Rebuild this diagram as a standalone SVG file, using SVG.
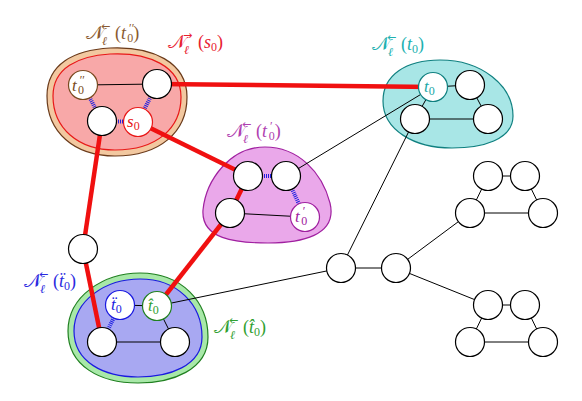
<svg xmlns="http://www.w3.org/2000/svg" width="582" height="401" viewBox="0 0 582 401">
<style>
.n{fill:#fff;stroke:#000;stroke-width:1.2}
.e{stroke:#000;stroke-width:1;fill:none}
.r{stroke:#f01010;stroke-width:4.5;fill:none;stroke-linecap:butt}
.h{stroke:#2020e0;stroke-width:4;stroke-dasharray:1 1;fill:none}
.cal{font-family:"DejaVu Serif","DejaVu Sans","Noto Sans",serif;font-size:19px}
.m{font-family:"Liberation Serif","DejaVu Serif",serif;font-size:18px}
.nt{font-family:"Liberation Serif","DejaVu Serif",serif;font-size:17px}
.it{font-style:italic}
.s{font-size:12px}
.sm{font-family:"DejaVu Sans",sans-serif;font-size:11px}
</style>
<rect width="582" height="401" fill="#fff"/>
<g id="blobs">
<g id="blob-t0pp">
<path d="M110 48 C152 46 187 62 187 97 C187 132 160 156 115 156 C74 156 47 132 47 96 C47 64 74 50 110 48 Z" fill="#f2c8a0" stroke="#6a3a1a" stroke-width="1.2"/>
<path d="M110 54 C148 52 181 66 181 97 C181 128 157 150 115 150 C78 150 53 128 53 96 C53 68 78 56 110 54 Z" fill="#f8a8a8" stroke="#e81818" stroke-width="1.2"/>
</g>
<g id="blob-t0p">
<path d="M265 147 C298 147 322 172 330 203 C338 236 300 243 268 243 C235 243 201 239 203 210 C206 180 230 147 265 147 Z" fill="#eaa8ea" stroke="#a020a0" stroke-width="1.2"/>
</g>
<g id="blob-t0">
<path d="M440 60 C482 60 513 86 513 116 C513 140 482 148 452 148 C414 148 383 130 383 101 C383 75 406 60 440 60 Z" fill="#a8e6e6" stroke="#108080" stroke-width="1.2"/>
</g>
<g id="blob-tdd">
<path d="M140 273 C182 273 208 302 208 337 C208 370 172 383 138 383 C100 383 68 366 68 331 C68 296 104 273 140 273 Z" fill="#a8e8a8" stroke="#208020" stroke-width="1.2"/>
<path d="M140 279 C177 279 202 304 202 337 C202 366 169 377 138 377 C104 377 74 362 74 331 C74 300 106 279 140 279 Z" fill="#a8a8f2" stroke="#1a1ae0" stroke-width="1.2"/>
</g>
</g>
<g id="connectors">
<line class="e" x1="83" y1="85" x2="157" y2="84"/>
<line class="e" x1="230" y1="213" x2="305" y2="217"/>
<line class="e" x1="286" y1="176" x2="433" y2="87"/>
<line class="e" x1="433" y1="87" x2="470" y2="85"/>
<line class="e" x1="433" y1="87" x2="415" y2="119"/>
<line class="e" x1="470" y1="85" x2="488" y2="119"/>
<line class="e" x1="415" y1="119" x2="488" y2="119"/>
<line class="e" x1="415" y1="119" x2="341" y2="268"/>
<line class="e" x1="341" y1="268" x2="396" y2="268"/>
<line class="e" x1="341" y1="268" x2="157" y2="306"/>
<line class="e" x1="120" y1="305" x2="157" y2="306"/>
<line class="e" x1="157" y1="306" x2="175" y2="342"/>
<line class="e" x1="102" y1="342" x2="175" y2="342"/>
<line class="e" x1="396" y1="268" x2="470" y2="213"/>
<line class="e" x1="396" y1="268" x2="488" y2="305"/>
<line class="e" x1="488" y1="176" x2="525" y2="176"/>
<line class="e" x1="488" y1="176" x2="470" y2="213"/>
<line class="e" x1="525" y1="176" x2="543" y2="213"/>
<line class="e" x1="470" y1="213" x2="543" y2="213"/>
<line class="e" x1="488" y1="305" x2="525" y2="305"/>
<line class="e" x1="488" y1="305" x2="470" y2="342"/>
<line class="e" x1="525" y1="305" x2="543" y2="342"/>
<line class="e" x1="470" y1="342" x2="543" y2="342"/>
<line class="r" x1="157" y1="84" x2="433" y2="87"/>
<line class="r" x1="138" y1="122" x2="248" y2="176"/>
<line class="r" x1="248" y1="176" x2="230" y2="213"/>
<line class="r" x1="230" y1="213" x2="157" y2="306"/>
<line class="r" x1="102" y1="121" x2="83" y2="249"/>
<line class="r" x1="83" y1="249" x2="102" y2="342"/>
<line class="h" x1="83" y1="85" x2="102" y2="121"/>
<line class="h" x1="157" y1="84" x2="138" y2="122"/>
<line class="h" x1="102" y1="121" x2="138" y2="122"/>
<line class="h" x1="248" y1="176" x2="286" y2="176"/>
<line class="h" x1="286" y1="176" x2="305" y2="217"/>
<line class="h" x1="120" y1="305" x2="102" y2="342"/>
</g>
<g id="node-t0pp"><circle cx="83" cy="85" r="14.5" class="n" style="stroke:#7a4a20"/><text x="72" y="91" class="nt" fill="#7a4a20"><tspan class="it">t</tspan><tspan class="s" dx="3" dy="-7">′′</tspan><tspan class="s" dx="-7" dy="10">0</tspan></text></g>
<g id="node-r1"><circle cx="157" cy="84" r="14.5" class="n"/></g>
<g id="node-r2"><circle cx="102" cy="121" r="14.5" class="n"/></g>
<g id="node-s0"><circle cx="138" cy="122" r="14.5" class="n" style="stroke:#e81818"/><text x="127" y="127" class="nt" fill="#e81818"><tspan class="it">s</tspan><tspan class="s" dy="3">0</tspan></text></g>
<g id="node-m1"><circle cx="248" cy="176" r="14.5" class="n"/></g>
<g id="node-m2"><circle cx="286" cy="176" r="14.5" class="n"/></g>
<g id="node-m3"><circle cx="230" cy="213" r="14.5" class="n"/></g>
<g id="node-t0p"><circle cx="305" cy="217" r="14.5" class="n" style="stroke:#a020a0"/><text x="295" y="222" class="nt" fill="#a020a0"><tspan class="it">t</tspan><tspan class="s" dx="3" dy="-7">′</tspan><tspan class="s" dx="-4" dy="10">0</tspan></text></g>
<g id="node-t0"><circle cx="433" cy="87" r="14.5" class="n" style="stroke:#108080"/><text x="424" y="92" class="nt" fill="#20a8a8"><tspan class="it">t</tspan><tspan class="s" dy="3">0</tspan></text></g>
<g id="node-c1"><circle cx="470" cy="85" r="14.5" class="n"/></g>
<g id="node-c2"><circle cx="415" cy="119" r="14.5" class="n"/></g>
<g id="node-c3"><circle cx="488" cy="119" r="14.5" class="n"/></g>
<g id="node-mid"><circle cx="83" cy="249" r="14.5" class="n"/></g>
<g id="node-tdd"><circle cx="120" cy="305" r="14.5" class="n" style="stroke:#1a1ae0"/><text x="111" y="310" class="nt" fill="#1a1ae0"><tspan class="it">ẗ</tspan><tspan class="s" dy="3">0</tspan></text></g>
<g id="node-that"><circle cx="157" cy="306" r="14.5" class="n" style="stroke:#208020"/><text x="148" y="311" class="nt" fill="#30a030"><tspan class="it">t̂</tspan><tspan class="s" dy="3">0</tspan></text></g>
<g id="node-b1"><circle cx="102" cy="342" r="14.5" class="n"/></g>
<g id="node-b2"><circle cx="175" cy="342" r="14.5" class="n"/></g>
<g id="node-A"><circle cx="341" cy="268" r="14.5" class="n"/></g>
<g id="node-B"><circle cx="396" cy="268" r="14.5" class="n"/></g>
<g id="node-p1"><circle cx="488" cy="176" r="14.5" class="n"/></g>
<g id="node-p2"><circle cx="525" cy="176" r="14.5" class="n"/></g>
<g id="node-p3"><circle cx="470" cy="213" r="14.5" class="n"/></g>
<g id="node-p4"><circle cx="543" cy="213" r="14.5" class="n"/></g>
<g id="node-q1"><circle cx="488" cy="305" r="14.5" class="n"/></g>
<g id="node-q2"><circle cx="525" cy="305" r="14.5" class="n"/></g>
<g id="node-q3"><circle cx="470" cy="342" r="14.5" class="n"/></g>
<g id="node-q4"><circle cx="543" cy="342" r="14.5" class="n"/></g>
<g id="labels">
<g id="lab-t0pp" fill="#8a5a30">
<text x="86" y="39" class="cal">𝒩</text><text x="102" y="45" class="m it s">ℓ</text><text x="101" y="30" class="sm">←</text>
<text x="115" y="39" class="m">(<tspan class="it">t</tspan><tspan class="s" dx="3" dy="-7">′′</tspan><tspan class="s" dx="-7" dy="10">0</tspan><tspan dy="-3">)</tspan></text>
</g>
<g id="lab-s0" fill="#e82030">
<text x="168" y="48" class="cal">𝒩</text><text x="184" y="54" class="m it s">ℓ</text><text x="183" y="39" class="sm">→</text>
<text x="198" y="48" class="m">(<tspan class="it">s</tspan><tspan class="s" dy="3">0</tspan><tspan dy="-3">)</tspan></text>
</g>
<g id="lab-t0" fill="#20b0b0">
<text x="372" y="50" class="cal">𝒩</text><text x="388" y="56" class="m it s">ℓ</text><text x="387" y="41" class="sm">←</text>
<text x="401" y="50" class="m">(<tspan class="it">t</tspan><tspan class="s" dy="3">0</tspan><tspan dy="-3">)</tspan></text>
</g>
<g id="lab-t0p" fill="#b040b0">
<text x="227" y="137" class="cal">𝒩</text><text x="243" y="143" class="m it s">ℓ</text><text x="242" y="128" class="sm">←</text>
<text x="256" y="137" class="m">(<tspan class="it">t</tspan><tspan class="s" dx="3" dy="-7">′</tspan><tspan class="s" dx="-4" dy="10">0</tspan><tspan dy="-3">)</tspan></text>
</g>
<g id="lab-tdd" fill="#2a2ae0">
<text x="24" y="287" class="cal">𝒩</text><text x="40" y="293" class="m it s">ℓ</text><text x="39" y="278" class="sm">←</text>
<text x="53" y="287" class="m">(<tspan class="it">ẗ</tspan><tspan class="s" dy="3">0</tspan><tspan dy="-3">)</tspan></text>
</g>
<g id="lab-that" fill="#30a030">
<text x="214" y="333" class="cal">𝒩</text><text x="230" y="339" class="m it s">ℓ</text><text x="229" y="324" class="sm">←</text>
<text x="243" y="333" class="m">(<tspan class="it">t̂</tspan><tspan class="s" dy="3">0</tspan><tspan dy="-3">)</tspan></text>
</g>
</g>
</svg>
